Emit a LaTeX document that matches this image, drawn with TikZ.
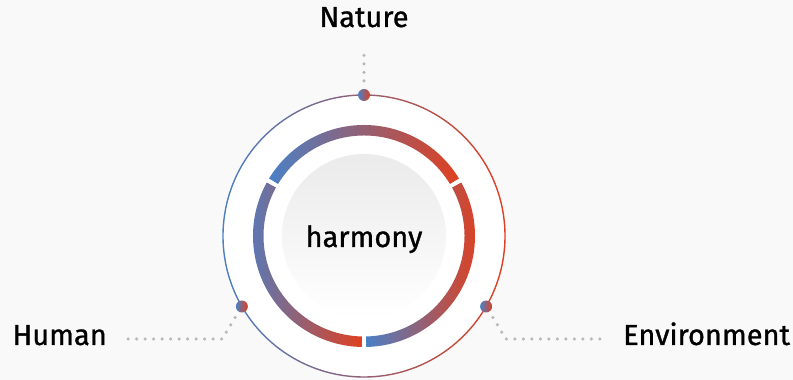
\documentclass[tikz,border=0pt]{standalone}
\usepackage{fontspec}
\setmainfont[FakeBold=1]{Fira Sans}
\usetikzlibrary{positioning}
\definecolor{hblue}{HTML}{4A80C6}
\definecolor{hred}{HTML}{DF4020}
\definecolor{hgray}{HTML}{B8B8B8}
\definecolor{hback}{HTML}{F9F9FA}

\begin{document}
\begin{tikzpicture}[x=1pt, y=1pt]
    % Define the styles
    \tikzstyle{tag} = [font=\fontsize{29}{33}\selectfont, inner sep=0pt, text=black]
    \tikzstyle{ball} = [circle, minimum size=12pt, inner sep=0pt, left color=hblue, right color=hred]
    \tikzstyle{grad} = [left color=hblue, right color=hred]
    \tikzstyle{leader} = [draw=hgray, line width=3.5pt, line cap=round, dash pattern=on 0pt off 8.5pt]

    % Background
    \fill[hback] (0,0) rectangle (793,380);
    \useasboundingbox (0,0) rectangle (793,380);
    \coordinate (c) at (364,144);

    % Outer thin ring and centre disc
    \fill[white] (c) circle (141);
    \shade[grad, even odd rule] (c) circle (141.7) (c) circle (140.3);
    \shade[top color=black!8, bottom color=white] (c) circle (82);

    % Thick ring, three segments
    \foreach \a in {30, 150, 270} {
        \shade[grad] ([shift={(\a+1.2:111)}]c) arc[start angle=\a+1.2, end angle=\a+118.8, radius=111]
            -- ([shift={(\a+118.8:100.5)}]c) arc[start angle=\a+118.8, end angle=\a+1.2, radius=100.5] -- cycle;
    }

    % Place the nodes
    \node[ball] (natdot) at ([shift={(90:141)}]c) {};
    \node[ball] (humdot) at ([shift={(210:141)}]c) {};
    \node[ball] (envdot) at ([shift={(330:141)}]c) {};
    \node[tag, anchor=base] (nature) at (364,353) {Nature};
    \node[tag, anchor=base east] (human) at (107,35) {Human};
    \node[tag, anchor=base west] (environment) at (623,35) {Environment};
    \node[tag, anchor=base] (harmony) at (364,133) {harmony};
    \coordinate (humbend) at (222,41);
    \coordinate (envbend) at (506,41);

    % Connect the nodes with dotted leaders
    \path[leader, shorten <=14pt, shorten >=21pt] (natdot.center) -- (natdot.center |- nature.south);
    \path[leader, shorten <=13pt, shorten >=17pt] (humdot.center) -- (humbend) -- (human.east |- humbend);
    \path[leader, shorten <=13pt, shorten >=20pt] (envdot.center) -- (envbend) -- (environment.west |- envbend);
\end{tikzpicture}
\end{document}
